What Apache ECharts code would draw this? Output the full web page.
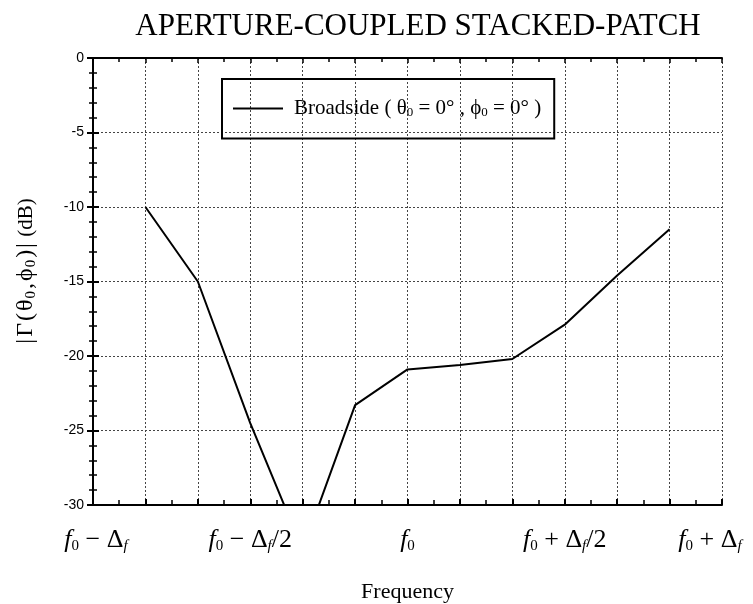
<!DOCTYPE html>
<html>
<head>
<meta charset="utf-8">
<script src="https://cdn.jsdelivr.net/npm/echarts@6/dist/echarts.min.js"></script>
<style>
  html, body { margin: 0; padding: 0; background: #fff; }
  #chart { width: 753px; height: 604px; }
</style>
</head>
<body>
<div id="chart"></div>
<script>
// x positions in steps of Δf/6, f0 at 6
var freqSteps = [1, 2, 3, 4, 5, 6, 7, 8, 9, 10, 11];
var broadside = [-10, -15, -24.5, -33, -23.3, -20.9, -20.6, -20.2, -17.9, -14.6, -11.5];
var xTickPos = [0, 3, 6, 9, 12];
var xTickLabels = [
  "{p1|}{i|f}{s|0}{n| − Δ}{si|f}",
  "{i|f}{s|0}{n| − Δ}{si|f}{n|/2}",
  "{i|f}{s|0}",
  "{i|f}{s|0}{n| + Δ}{si|f}{n|/2}",
  "{i|f}{s|0}{n| + Δ}{si|f}{p2|}"
];
var yTicks = [0, -5, -10, -15, -20, -25, -30];

var serif = "'Liberation Serif', 'DejaVu Serif', serif";
var chart = echarts.init(document.getElementById("chart"));

var gridLine = {
  show: true,
  lineStyle: { color: "#444", width: 1, type: [2, 2] }
};

var options = {
  animation: false,
  backgroundColor: "#fff",
  title: {
    text: "APERTURE-COUPLED STACKED-PATCH",
    left: 413,
    top: 6,
    textAlign: "center",
    textStyle: { fontFamily: serif, fontWeight: "normal", fontSize: 31, color: "#000" }
  },
  legend: {
    left: 222,
    top: 79,
    orient: "horizontal",
    padding: [19, 13, 19, 11],
    borderColor: "#000",
    borderWidth: 2,
    borderRadius: 0,
    icon: "rect",
    itemWidth: 50,
    itemHeight: 2,
    formatter: function () {
      return "{n|Broadside ( θ}{s|0}{n| = 0° , ϕ}{s|0}{n| = 0° )}";
    },
    textStyle: {
      padding: [0, 0, 0, 6],
      rich: {
        n: { fontFamily: serif, fontSize: 21, color: "#000" },
        s: { fontFamily: serif, fontSize: 13, color: "#000", verticalAlign: "bottom", padding: [9, 0, 0, 0] }
      }
    }
  },
  grid: { left: 93, right: 31, top: 58, bottom: 99, outerBoundsMode: "none" },
  xAxis: [
    {
      type: "value",
      min: 0,
      max: 12,
      interval: 1,
      name: "Frequency",
      nameLocation: "middle",
      nameGap: 76,
      nameTextStyle: { fontFamily: serif, fontSize: 22, color: "#000" },
      axisLine: { show: true, onZero: false, lineStyle: { color: "#000", width: 2 } },
      axisTick: { show: true, inside: true, length: 6, lineStyle: { color: "#000", width: 2 } },
      minorTick: { show: true, splitNumber: 2, length: 5, lineStyle: { color: "#000", width: 1.5 } },
      splitLine: gridLine,
      axisLabel: {
        margin: 22,
        showMinLabel: true,
        showMaxLabel: true,
        formatter: function (v) {
          var k = xTickPos.indexOf(v);
          return k < 0 ? "" : xTickLabels[k];
        },
        rich: {
          i: { fontFamily: serif, fontStyle: "italic", fontSize: 26, color: "#000" },
          n: { fontFamily: serif, fontSize: 26, color: "#000" },
          s: { fontFamily: serif, fontSize: 15, color: "#000", verticalAlign: "bottom", padding: [12, 0, 0, 0] },
          si: { fontFamily: serif, fontStyle: "italic", fontSize: 15, color: "#000", verticalAlign: "bottom", padding: [12, 0, 0, 0] },
          p1: { width: 6 },
          p2: { width: 24 }
        }
      }
    },
    {
      type: "value",
      position: "top",
      min: 0,
      max: 12,
      interval: 1,
      axisLine: { show: true, lineStyle: { color: "#000", width: 2 } },
      axisTick: { show: true, inside: true, length: 5, lineStyle: { color: "#000", width: 1.5 } },
      minorTick: { show: true, splitNumber: 2, length: 4, lineStyle: { color: "#000", width: 1.5 } },
      axisLabel: { show: false },
      splitLine: { show: false }
    }
  ],
  yAxis: [
    {
      type: "value",
      min: -30,
      max: 0,
      interval: 5,
      name: "{g||}{g|Γ}{g|(}{g|θ}{s|0}{g|,}{g|ϕ}{s|0}{g|)}{g||}{n| (dB)}",
      nameLocation: "middle",
      nameRotate: 90,
      nameGap: 54,
      nameTextStyle: {
        padding: [0, 0, 0, 20],
        rich: {
          g: { fontFamily: serif, fontSize: 24, color: "#000", padding: [0, 1, 0, 1] },
          n: { fontFamily: serif, fontSize: 21, color: "#000" },
          s: { fontFamily: serif, fontSize: 15, color: "#000", verticalAlign: "bottom", padding: [11, 1, 0, 0] }
        }
      },
      axisLine: { show: true, onZero: false, lineStyle: { color: "#000", width: 2 } },
      axisTick: { show: true, inside: true, length: 6, lineStyle: { color: "#000", width: 2 } },
      minorTick: { show: true, splitNumber: 5, length: 4, lineStyle: { color: "#000", width: 1.5 } },
      splitLine: gridLine,
      axisLabel: {
        margin: 9,
        fontFamily: "'Liberation Sans', Arial, sans-serif",
        fontSize: 14,
        color: "#000",
        formatter: function (v) {
          return yTicks.indexOf(v) < 0 ? "" : String(v);
        }
      }
    },
    {
      type: "value",
      position: "right",
      min: -30,
      max: 0,
      interval: 5,
      axisLine: { show: true, lineStyle: { color: "#000", width: 2 } },
      axisTick: { show: true, inside: true, length: 6, lineStyle: { color: "#000", width: 2 } },
      minorTick: { show: true, splitNumber: 5, length: 4, lineStyle: { color: "#000", width: 1.5 } },
      axisLabel: { show: false },
      splitLine: { show: false }
    }
  ],
  series: [
    {
      name: "Broadside",
      type: "line",
      data: freqSteps.map(function (x, i) { return [x, broadside[i]]; }),
      showSymbol: false,
      clip: true,
      itemStyle: { color: "#000" },
      lineStyle: { color: "#000", width: 2 }
    }
  ]
};

chart.setOption(options);
</script>
</body>
</html>
